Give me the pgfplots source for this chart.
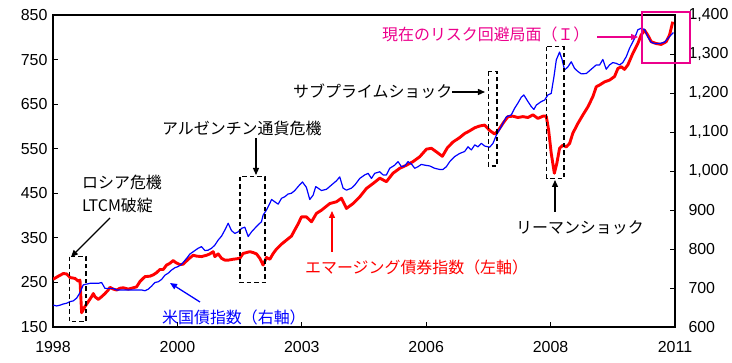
\documentclass[border=0pt]{standalone}
\usepackage{fontspec}
\setmainfont{Liberation Sans}
\newfontfamily\jp{Noto Sans CJK JP}
\usepackage{pgfplots}
\usepackage{pgfplotstable}
\pgfplotsset{compat=1.18}
\usetikzlibrary{arrows.meta}

\pgfplotstableread{
t v
0.00 257
0.043 264
0.083 270
0.11 269
0.137 261
0.177 259
0.203 253
0.217 255
0.23 182
0.257 196
0.284 207
0.31 218
0.324 225
0.337 218
0.364 212
0.391 218
0.418 225
0.444 233
0.458 239
0.484 235
0.512 233
0.538 237
0.565 238
0.605 235
0.632 237
0.672 240
0.699 252
0.739 263
0.779 264
0.806 267
0.833 272
0.859 279
0.886 279
0.913 289
0.94 293
0.966 299
0.99 294
1.02 290
1.047 291
1.087 302
1.127 311
1.154 309
1.194 308
1.235 311
1.261 314
1.288 319
1.301 308
1.328 314
1.355 304
1.382 300
1.408 300
1.448 302
1.475 303
1.502 304
1.528 315
1.555 317
1.582 319
1.609 317
1.636 314
1.663 304
1.689 289
1.716 306
1.743 302
1.77 315
1.797 325
1.837 336
1.877 345
1.917 354
1.944 368
1.97 381
1.997 397
2.037 397
2.078 386
2.118 405
2.158 412
2.225 427
2.279 431
2.319 439
2.359 416
2.412 427
2.466 442
2.52 461
2.573 472
2.627 484
2.68 476
2.733 495
2.787 506
2.841 513
2.894 521
2.948 532
3.002 549
3.042 551
3.082 543
3.13 533
3.17 552
3.215 565
3.269 575
3.309 584
3.349 590
3.39 597
3.43 601
3.47 603
3.51 591
3.55 583
3.577 590
3.617 607
3.657 622
3.697 623
3.737 620
3.777 622
3.818 620
3.858 626
3.898 618
3.938 623
3.965 623
3.984 592
4.005 540
4.03 495
4.05 517
4.072 551
4.099 558
4.126 554
4.153 562
4.179 585
4.22 607
4.26 626
4.3 644
4.34 667
4.367 689
4.394 693
4.434 700
4.474 704
4.514 712
4.541 730
4.568 734
4.594 728
4.621 738
4.661 764
4.701 786
4.728 805
4.755 816
4.781 805
4.809 790
4.849 786
4.889 784
4.929 790
4.956 805
4.982 835
}\emdata

\pgfplotstableread{
t v
0.003 656
0.03 654
0.056 656
0.083 659
0.11 661
0.137 665
0.163 667
0.19 674
0.217 688
0.243 708
0.27 710
0.297 712
0.337 712
0.364 712
0.391 714
0.418 699
0.444 699
0.484 699
0.512 695
0.551 695
0.592 695
0.632 695
0.672 695
0.712 695
0.739 693
0.766 697
0.793 705
0.819 714
0.846 716
0.873 722
0.9 733
0.926 738
0.953 746
0.98 752
1.006 755
1.034 761
1.074 776
1.1 787
1.127 793
1.167 802
1.194 806
1.221 796
1.247 797
1.275 802
1.301 810
1.328 823
1.355 833
1.382 849
1.408 866
1.435 847
1.462 840
1.489 844
1.516 853
1.542 856
1.569 832
1.596 844
1.622 853
1.649 862
1.676 870
1.689 887
1.716 900
1.743 917
1.757 927
1.783 921
1.81 915
1.837 930
1.863 934
1.89 941
1.917 943
1.944 950
1.97 960
2.005 972
2.037 958
2.064 927
2.091 938
2.112 960
2.131 956
2.158 950
2.198 953
2.238 964
2.279 975
2.305 985
2.332 956
2.359 951
2.399 956
2.426 964
2.466 981
2.506 990
2.533 994
2.56 981
2.586 994
2.627 998
2.653 990
2.68 990
2.707 1007
2.747 1015
2.774 1024
2.801 1011
2.827 1013
2.854 1024
2.881 1018
2.908 1007
2.934 1011
2.961 1017
2.988 1015
3.028 1013
3.068 1007
3.108 1004
3.135 1004
3.162 1011
3.189 1024
3.229 1037
3.269 1045
3.309 1050
3.336 1062
3.363 1054
3.39 1067
3.416 1062
3.443 1071
3.47 1064
3.51 1061
3.537 1071
3.564 1092
3.604 1114
3.644 1139
3.684 1144
3.711 1161
3.737 1174
3.764 1189
3.785 1195
3.818 1178
3.845 1165
3.866 1158
3.885 1169
3.925 1178
3.952 1182
3.978 1195
4.005 1199
4.027 1242
4.046 1285
4.072 1305
4.093 1285
4.112 1259
4.139 1267
4.166 1280
4.193 1263
4.22 1255
4.247 1249
4.287 1250
4.327 1261
4.367 1272
4.394 1272
4.42 1286
4.447 1261
4.474 1272
4.5 1278
4.528 1276
4.554 1272
4.58 1278
4.608 1293
4.635 1315
4.675 1340
4.701 1362
4.728 1366
4.755 1363
4.781 1344
4.809 1330
4.835 1327
4.875 1327
4.916 1330
4.942 1340
4.969 1349
4.988 1355
}\usdata

\begin{document}
\begin{tikzpicture}
\useasboundingbox (-53bp,-36bp) rectangle (679bp,327bp);
\pgfplotsset{
  common/.style={
    scale only axis, width=622bp, height=312bp,
    xmin=0, xmax=5,
    tick align=inside, major tick length=5bp,
    tick style={black, line width=0.8bp},
    axis line style={line width=1.2bp},
    ticklabel style={font=\fontsize{16}{18}\selectfont},
    /pgf/number format/assume math mode=true,
    /pgf/number format/1000 sep={,},
  }
}
\begin{axis}[common,
  ymin=150, ymax=850,
  xtick={0,1,2,3,4,5},
  xticklabels={1998,2000,2003,2006,2008,2011},
  ytick={150,250,...,850},
  ytick pos=left, xtick pos=bottom,
  xticklabel style={yshift=-11bp},
  yticklabel style={xshift=-2bp},
]
\addplot[red, line width=2.9bp, line join=round] table[x=t,y=v]{\emdata};
\end{axis}
\begin{axis}[common,
  ymin=600, ymax=1400,
  axis y line*=right, axis x line=none,
  ytick={600,700,...,1400},
  yticklabel style={xshift=10bp},
]
\addplot[blue, line width=1.2bp, line join=round] table[x=t,y=v]{\usdata};
\end{axis}

\begin{scope}[x=1bp,y=-1bp,shift={(-53bp,327bp)}]
\tikzset{
  dbox/.style={draw=black, line width=1.1bp, dash pattern=on 4.5bp off 3bp},
  arr/.style={line width=1.3bp, -{Triangle[length=7bp,width=6bp]}},
  jl/.style={anchor=west, inner sep=0pt, font=\jp\fontsize{16}{18}\selectfont},
}
% boxes
\draw[dbox] (69.3,256.7) rectangle (86,321.7);
\draw[dbox] (240,176.7) rectangle (265,282.7);
\draw[dbox] (488.3,71.7) rectangle (497,166);
\draw[dbox] (546.7,46.7) rectangle (564,178.3);
\draw[magenta, line width=2bp] (642,12) rectangle (690,63);
% arrows
\draw[arr] (110,218) -- (71,257);
\draw[arr] (256,138) -- (256,175);
\draw[arr] (452,92) -- (485,92);
\draw[arr] (555,212) -- (555,180);
\draw[arr, magenta] (597,37) -- (638,37);
\draw[arr, red] (332,252) -- (332,211);
\draw[arr, blue] (200,302) -- (170,283);
% texts
\node[jl] at (82,182) {ロシア危機};
\node[jl] at (82,205) {LTCM破綻};
\node[jl] at (162,128) {アルゼンチン通貨危機};
\node[jl] at (293,91) {サブプライムショック};
\node[jl] at (516,228) {リーマンショック};
\node[jl, text=magenta] at (382,34) {現在のリスク回避局面（Ｉ）};
\node[jl, text=red] at (305,267) {エマージング債券指数（左軸）};
\node[jl, text=blue] at (162,317) {米国債指数（右軸）};
\end{scope}
\end{tikzpicture}
\end{document}
